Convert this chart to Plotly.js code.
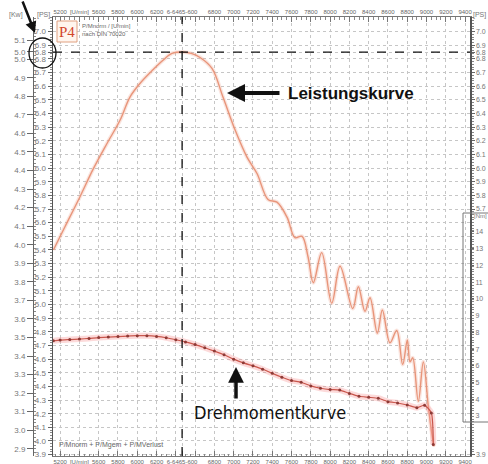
<!DOCTYPE html>
<html><head><meta charset="utf-8">
<script src="https://cdn.plot.ly/plotly-3.0.1.min.js"></script>
<style>html,body{margin:0;padding:0;background:#fff}#chart{width:488px;height:464px}</style>
</head><body><div id="chart"></div>
<script>
// ---- data ----
const powerRpm = [5130,5250,5406,5541,5686,5821,5924,6028,6163,6267,6360,6474,6560,6651,6775,6889,7014,7138,7242,7356,7449,7553,7636,7709,7771,7826,7913,8017,8103,8235,8293,8362,8414,8490,8542,8621,8691,8753,8801,8829,8857,8915,8967,9019,9054,9078];
const powerPS  = [5.40,5.57,5.79,5.99,6.18,6.35,6.52,6.62,6.72,6.79,6.84,6.85,6.84,6.81,6.73,6.52,6.28,6.08,5.96,5.77,5.75,5.64,5.49,5.50,5.35,5.16,5.38,5.01,5.28,4.97,5.13,4.95,5.05,4.79,4.96,4.72,4.81,4.56,4.74,4.58,4.61,4.29,4.58,4.25,4.06,3.96];

const torqueRpm = [5130,5200,5300,5400,5500,5600,5700,5800,5900,6000,6100,6200,6300,6400,6500,6600,6700,6800,6900,7000,7100,7200,7300,7400,7500,7600,7700,7800,7900,8000,8100,8200,8300,8400,8500,8600,8700,8800,8900,8980,9050,9070];
const torqueNm  = [7.50,7.54,7.57,7.60,7.64,7.69,7.72,7.75,7.78,7.80,7.80,7.76,7.68,7.56,7.43,7.27,7.08,6.88,6.66,6.40,6.18,6.00,5.80,5.55,5.32,5.12,5.02,4.80,4.66,4.58,4.55,4.35,4.18,4.12,4.06,3.86,3.78,3.66,3.50,3.64,3.18,1.30];

const peakRpm = 6465;
const peakPS = 6.85;

// ---- tick labels ----
const rpmTickVals = [5200,5400,5600,5800,6000,6200,6400,6465,6600,6800,7000,7200,7400,7600,7800,8000,8200,8400,8600,8800,9000,9200,9400];
const rpmTickText = ["5200","[U/min]","5600","5800","6000","6200","","6-6465-600","","6800","7000","7200","7400","7600","7800","8000","8200","8400","8600","8800","9000","9200","9400"];

const psTickVals = [3.9,4.0,4.1,4.2,4.3,4.4,4.5,4.6,4.7,4.8,4.9,5.0,5.1,5.2,5.3,5.4,5.5,5.6,5.7,5.8,5.9,6.0,6.1,6.2,6.3,6.4,6.5,6.6,6.7,6.8,6.85,6.9,7.0];
const psTickText = ["3.9","4.0","4.1","4.2","4.3","4.4","4.5","4.6","4.7","4.8","4.9","5.0","5.1","5.2","5.3","5.4","5.5","5.6","5.7","5.8","5.9","6.0","6.1","6.2","6.3","6.4","6.5","6.6","6.7","6.8","6.8","6.9","7.0"];
const psRightVals = [3.9,5.7,5.8,5.9,6.0,6.1,6.2,6.3,6.4,6.5,6.6,6.7,6.8,6.85,6.9,7.0];
const psRightText = ["3.9","5.7","5.8","5.9","6.0","6.1","6.2","6.3","6.4","6.5","6.6","6.7","6.8","6.8","6.9","7.0"];

const kwTickVals = [2.9,3.0,3.1,3.2,3.3,3.4,3.5,3.6,3.7,3.8,3.9,4.0,4.1,4.2,4.3,4.4,4.5,4.6,4.7,4.8,4.9,5.0,5.04,5.1];
const kwTickText = ["2.9","3.0","3.1","3.2","3.3","3.4","3.5","3.6","3.7","3.8","3.9","4.0","4.1","4.2","4.3","4.4","4.5","4.6","4.7","4.8","4.9","5.0","5.0","5.1"];

const nmTickVals = [3,4,5,6,7,8,9,10,11,12,13,14];
const nmTickText = ["3","4","5","6","7","8","9","10","11","12","13","14"];

// ---- geometry helpers (pixel -> paper) ----
const W = 488, H = 464, T = 17, B = 456;
const px = v => v / W;
const py = v => (B - v) / (B - T);

const xRange = [5126, 9451];
const psRange = [3.89, 7.107];
const kwRange = psRange.map(v => v * 0.73549875);
const nmRange = [0.61, 26.85];

const FAM = 'Liberation Sans, Arial, sans-serif';
const tickFont = {family: FAM, size: 8, color: '#777'};
const smallFont = {family: FAM, size: 6, color: '#666'};
const gridCol = '#c6c6c6';

const traces = [
  {x: powerRpm, y: powerPS, xaxis: 'x', yaxis: 'y', mode: 'lines', line: {color: 'rgba(240,170,150,0.30)', width: 4, shape: 'spline', smoothing: 1}, hoverinfo: 'skip'},
  {x: powerRpm, y: powerPS, xaxis: 'x', yaxis: 'y', mode: 'lines', line: {color: '#e8957a', width: 1.4, shape: 'spline', smoothing: 1}},
  {x: torqueRpm, y: torqueNm, xaxis: 'x', yaxis: 'y3', mode: 'lines', line: {color: 'rgba(245,150,150,0.35)', width: 6, shape: 'spline', smoothing: 0.6}, hoverinfo: 'skip'},
  {x: torqueRpm, y: torqueNm, xaxis: 'x', yaxis: 'y3', mode: 'lines+markers', line: {color: '#c9564c', width: 1.2, shape: 'spline', smoothing: 0.6}, marker: {size: 3, color: '#8e3a36'}},
  // empty traces so that the extra axes (top rpm, kW, right PS) are drawn
  {x: [], y: [], xaxis: 'x2', yaxis: 'y', mode: 'lines', hoverinfo: 'skip'},
  {x: [], y: [], xaxis: 'x', yaxis: 'y2', mode: 'lines', hoverinfo: 'skip'},
  {x: [], y: [], xaxis: 'x', yaxis: 'y4', mode: 'lines', hoverinfo: 'skip'}
];

const xCommon = {
  range: xRange, tickmode: 'array', tickvals: rpmTickVals, ticktext: rpmTickText, automargin: false,
  ticks: 'inside', ticklen: 5, tickcolor: '#777', tickfont: smallFont,
  showline: true, linecolor: '#777', linewidth: 1, zeroline: false,
  minor: {dtick: 50, tick0: 5200, ticks: 'inside', ticklen: 2.5, tickcolor: '#888', showgrid: false}
};

function ann(x, y, text, font, extra) {
  return Object.assign({xref: 'paper', yref: 'paper', x: px(x), y: py(y), text: text, showarrow: false,
    xanchor: 'center', yanchor: 'middle', font: font}, extra || {});
}
function arrow(x, y, ax, ay, w) {
  return {xref: 'paper', yref: 'paper', x: px(x), y: py(y), ax: ax, ay: ay, text: '', showarrow: true,
    xanchor: 'center', yanchor: 'middle', arrowhead: 2, arrowsize: 0.9, arrowwidth: w, arrowcolor: '#111'};
}

const layout = {
  width: W, height: H,
  margin: {l: 0, r: 0, t: T, b: H - B, autoexpand: false},
  paper_bgcolor: '#fff', plot_bgcolor: '#fff',
  showlegend: false,
  font: {family: FAM},
  xaxis: Object.assign({}, xCommon, {domain: [px(53), px(470)], anchor: 'y', side: 'bottom', showgrid: true, gridcolor: gridCol, griddash: 'dot', gridwidth: 1}),
  xaxis2: Object.assign({}, xCommon, {overlaying: 'x', matches: 'x', anchor: 'y', side: 'top', showgrid: false}),
  yaxis: {
    range: psRange, anchor: 'x', side: 'left', tickmode: 'array', tickvals: psTickVals, ticktext: psTickText, automargin: false,
    ticks: 'outside', ticklen: 4, tickcolor: '#666', tickfont: tickFont,
    showline: true, linecolor: '#555', linewidth: 1.5, zeroline: false,
    showgrid: true, gridcolor: gridCol, griddash: 'dot',
    minor: {dtick: 0.02, ticks: 'outside', ticklen: 2, tickcolor: '#888', showgrid: false}
  },
  yaxis2: {
    range: kwRange, overlaying: 'y', anchor: 'free', position: px(33), side: 'left', automargin: false,
    tickmode: 'array', tickvals: kwTickVals, ticktext: kwTickText,
    ticks: 'outside', ticklen: 6, tickcolor: '#666', tickfont: tickFont,
    showline: true, linecolor: '#666', linewidth: 1, zeroline: false, showgrid: false,
    minor: {dtick: 0.02, ticks: 'inside', ticklen: 2, tickcolor: '#888', showgrid: false}
  },
  yaxis3: {
    range: nmRange, overlaying: 'y', anchor: 'x', side: 'right', automargin: false,
    tickmode: 'array', tickvals: nmTickVals, ticktext: nmTickText,
    ticks: 'outside', ticklen: 3, tickcolor: '#666', tickfont: {family: FAM, size: 7, color: '#777'},
    showline: false, zeroline: false, showgrid: false
  },
  yaxis4: {
    range: psRange, overlaying: 'y', anchor: 'x', side: 'right', automargin: false,
    tickmode: 'array', tickvals: psRightVals, ticktext: psRightText,
    ticks: 'outside', ticklen: 3, tickcolor: '#666', tickfont: {family: FAM, size: 7, color: '#777'},
    showline: true, linecolor: '#555', linewidth: 1.5, zeroline: false, showgrid: false,
    minor: {dtick: 0.02, ticks: 'outside', ticklen: 2, tickcolor: '#888', showgrid: false}
  },
  shapes: [
    {type: 'line', xref: 'x', yref: 'paper', x0: peakRpm, x1: peakRpm, y0: 0, y1: 1, line: {color: '#111', width: 1.3, dash: 'dash'}},
    {type: 'line', xref: 'paper', yref: 'y', x0: px(53), x1: px(470), y0: peakPS, y1: peakPS, line: {color: '#111', width: 1.3, dash: 'dash'}},
    {type: 'circle', xref: 'paper', yref: 'paper', x0: px(29), x1: px(56), y0: py(68), y1: py(38), line: {color: '#111', width: 1.3}},
    {type: 'rect', xref: 'paper', yref: 'paper', x0: px(57), x1: px(77), y0: py(42), y1: py(21), line: {color: '#e0a080', width: 1}, fillcolor: 'rgba(255,245,238,1)'},
    {type: 'rect', xref: 'paper', yref: 'paper', x0: px(463), x1: px(495), y0: py(422), y1: py(213), line: {color: '#777', width: 1}}
  ],
  annotations: [
    ann(16, 15, '[Kw]', {size: 7, color: '#777'}),
    ann(43, 15, '[PS]', {size: 7, color: '#777'}),
    ann(479, 15, '[PS]', {size: 7, color: '#777'}),
    ann(480, 216, '[Nm]', {size: 6, color: '#777'}),
    ann(67, 32, 'P4', {family: 'Liberation Serif, DejaVu Serif, serif', size: 15, color: '#d2452a'}),
    ann(80, 26, 'P/Mnorm / [U/min]', smallFont, {xanchor: 'left'}),
    ann(80, 34, 'nach DIN 70020', smallFont, {xanchor: 'left'}),
    ann(57, 445, 'P/Mnorm + P/Mgem + P/MVerlust', {size: 7, color: '#666'}, {xanchor: 'left'}),
    ann(351, 93, '<b>Leistungskurve</b>', {size: 17, color: '#111'}),
    arrow(227, 93, 54, 0, 4),
    ann(270, 412, 'Drehmomentkurve', {family: 'Liberation Sans Narrow, DejaVu Sans Condensed, Liberation Sans, sans-serif', size: 18, color: '#111'}),
    arrow(236, 367, 0, 33, 3.5),
    arrow(35, 33, -13, -34, 2.5)
  ]
};

Plotly.newPlot('chart', traces, layout, {displayModeBar: false, staticPlot: true});
</script>
</body></html>
